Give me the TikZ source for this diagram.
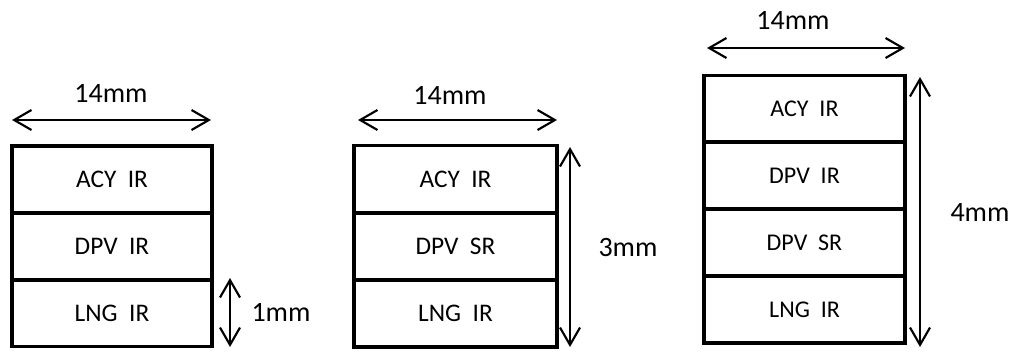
\documentclass[tikz,border=0pt]{standalone}
\usepackage{fontspec}
\setmainfont{Carlito}
\usetikzlibrary{arrows.meta}
\begin{document}
\begin{tikzpicture}[x=0.75pt,y=-0.75pt,
  row/.style={draw=black,line width=2.6pt,minimum width=#1,minimum height=50pt,inner sep=0pt,font=\fontsize{19}{22}\selectfont},
  row/.default=150pt,
  dim/.style={line width=1.6pt,{Straight Barb[length=13pt,width=15pt,line width=1.6pt]}-{Straight Barb[length=13pt,width=15pt,line width=1.6pt]}},
  lab/.style={inner sep=0pt,font=\fontsize{21}{24}\selectfont}]
\useasboundingbox (0,0) rectangle (1016,351);
% stack 1
\node[row=150pt] (s1a) at (112,179.5) {ACY\ \ IR};
\node[row=150pt] (s1b) at (112,246.5) {DPV\ \ IR};
\node[row=150pt] (s1c) at (112,313) {LNG\ \ IR};
\coordinate (w1l) at (12,120);
\coordinate (w1r) at (211,120);
\draw[dim] (w1l) -- (w1r);
\node[lab] (l1w) at (111,93) {14mm};
\coordinate (h1t) at (230,278);
\coordinate (h1b) at (230,347);
\draw[dim] (h1t) -- (h1b);
\node[lab] (l1h) at (281,312) {1mm};
% stack 2
\node[row=152pt] (s2a) at (455.5,179) {ACY\ \ IR};
\node[row=152pt] (s2b) at (455.5,246.5) {DPV\ \ SR};
\node[row=152pt] (s2c) at (455.5,313.5) {LNG\ \ IR};
\coordinate (w2l) at (358,120);
\coordinate (w2r) at (557,120);
\draw[dim] (w2l) -- (w2r);
\node[lab] (l2w) at (450,95) {14mm};
\coordinate (h2t) at (570,147);
\coordinate (h2b) at (570,347);
\draw[dim] (h2t) -- (h2b);
\node[lab] (l2h) at (628,248) {3mm};
% stack 3
\node[row=151pt,font=\fontsize{18}{21}\selectfont] (s3a) at (804.5,109) {ACY\ \ IR};
\node[row=151pt,font=\fontsize{18}{21}\selectfont] (s3b) at (804.5,175.5) {DPV\ \ IR};
\node[row=151pt,font=\fontsize{18}{21}\selectfont] (s3c) at (804.5,243) {DPV\ \ SR};
\node[row=151pt,font=\fontsize{18}{21}\selectfont] (s3d) at (804.5,309.5) {LNG\ \ IR};
\coordinate (w3l) at (707,48);
\coordinate (w3r) at (905,48);
\draw[dim] (w3l) -- (w3r);
\node[lab] (l3w) at (793,20) {14mm};
\coordinate (h3t) at (920,77);
\coordinate (h3b) at (920,347);
\draw[dim] (h3t) -- (h3b);
\node[lab] (l3h) at (980,213) {4mm};
\end{tikzpicture}
\end{document}
